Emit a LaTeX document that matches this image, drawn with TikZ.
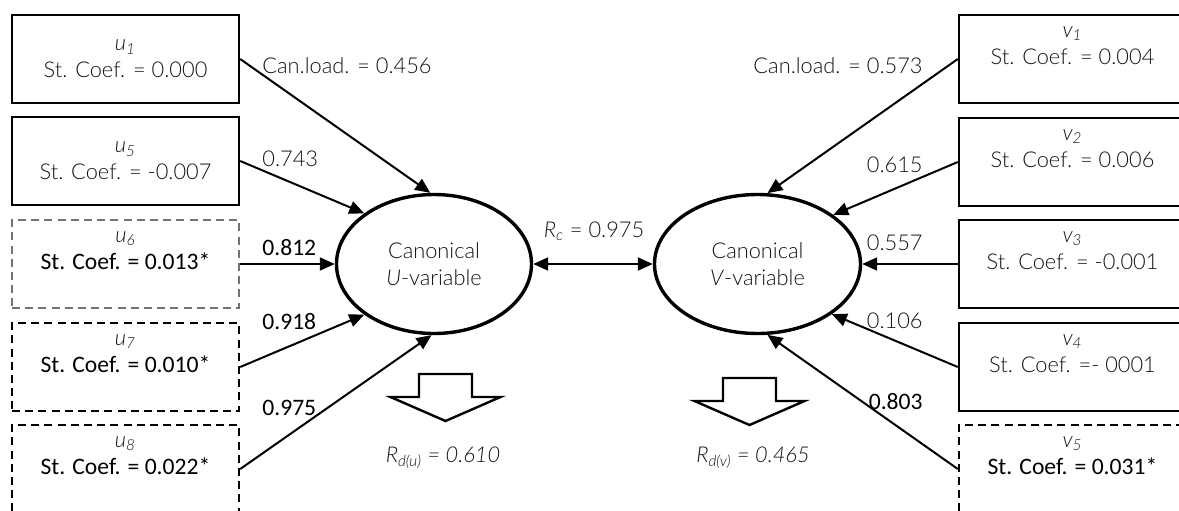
\documentclass[tikz,border=0pt]{standalone}
\usepackage{fontspec}
\setmainfont{Lato}[UprightFont=* Light,ItalicFont=* Light Italic]
\newfontfamily\regfont{Carlito}
\usetikzlibrary{shapes.geometric,arrows.meta}

\tikzset{
    every node/.style={font=\fontsize{10.9}{13.5}\selectfont},
    varbox/.style={draw,line width=1.2pt,minimum width=113.5pt,minimum height=44pt,inner sep=0pt,align=center,text=black!92},
    sigbox/.style={varbox,dash pattern=on 4pt off 2.6pt},
    latent/.style={ellipse,draw,line width=1.7pt,minimum height=69.5pt,inner sep=0pt,align=center,text=black!92},
    load/.style={-{Triangle[length=7.5pt,width=6.5pt]},line width=1pt},
    both/.style={{Triangle[length=7.5pt,width=6.5pt]}-{Triangle[length=7.5pt,width=6.5pt]},line width=1pt},
    lbl/.style={inner sep=0pt,text=black!92},
    siglbl/.style={inner sep=0pt,font=\fontsize{11.8}{14}\regfont}
}
\newcommand{\sigcoef}[1]{{\fontsize{11.8}{14}\regfont\color{black}St. Coef. = #1}}

\begin{document}
\begin{tikzpicture}[x=0.5pt,y=-0.5pt]
        \clip (0,0) rectangle (1179,510);

        % canonical variables
        \node[latent,minimum width=97.5pt] (U) at (434,264) {Canonical\\\textit{U}-variable};
        \node[latent,minimum width=103pt] (V) at (757.5,264) {Canonical\\\textit{V}-variable};

        % u set
        \node[varbox] (u1) at (125.5,59) {\textit{u\textsubscript{1}}\\St. Coef. = 0.000};
        \node[varbox] (u5) at (125.5,161) {\textit{u\textsubscript{5}}\\St. Coef. = -0.007};
        \node[sigbox,draw=black!55] (u6) at (125.5,264) {\textit{u\textsubscript{6}}\\\sigcoef{0.013*}\\~};
        \node[sigbox] (u7) at (125.5,367) {\textit{u\textsubscript{7}}\\\sigcoef{0.010*}\\~};
        \node[sigbox] (u8) at (125.5,469) {\textit{u\textsubscript{8}}\\\sigcoef{0.022*}\\~};

        % v set
        \node[varbox] (v1) at (1072.5,59) {\textit{v\textsubscript{1}}\\St. Coef. = 0.004\\~};
        \node[varbox] (v2) at (1072.5,162) {\textit{v\textsubscript{2}}\\St. Coef. = 0.006\\~};
        \node[varbox] (v3) at (1072.5,264) {\textit{v\textsubscript{3}}\\St. Coef. = -0.001\\~};
        \node[varbox] (v4) at (1072.5,367) {\textit{v\textsubscript{4}}\\St. Coef. =- 0001\\~};
        \node[sigbox] (v5) at (1072.5,469) {\textit{v\textsubscript{5}}\\\sigcoef{0.031*}\\~};

        % loadings
        \draw[load] (u1.east) -- (U.93);
        \draw[load] (u5.east) -- (U.144);
        \draw[load] (u6) -- (U);
        \draw[load] (u7.east) -- (U.216);
        \draw[load] (u8.east) -- (U.268);

        \draw[load] (v1.west) -- (V.82);
        \draw[load] (v2.west) -- (V.33);
        \draw[load] (v3) -- (V);
        \draw[load] (v4.west) -- (V.326);
        \draw[load] (v5.west) -- (V.278);

        \draw[both] (U) -- (V);

        \node[lbl,anchor=west] (lu1) at (262,66) {Can.load. = 0.456};
        \node[lbl,anchor=west] (lu5) at (262,159) {0.743};
        \node[siglbl,anchor=west] (lu6) at (262,248) {0.812};
        \node[siglbl,anchor=west] (lu7) at (262,322) {0.918};
        \node[siglbl,anchor=west] (lu8) at (262,408) {0.975};

        \node[lbl,anchor=east] (lv1) at (923,66) {Can.load. = 0.573};
        \node[lbl,anchor=east] (lv2) at (923,165) {0.615};
        \node[lbl,anchor=east] (lv3) at (923,243) {0.557};
        \node[lbl,anchor=east] (lv4) at (923,321) {0.106};
        \node[siglbl,anchor=east] (lv5) at (923,402) {0.803};

        \node[lbl] (rc) at (594,231) {\textit{R\textsubscript{c}} = 0.975};

        % redundancy
        \foreach \x/\y in {445.5/374,749.5/378}{
            \draw[line width=1.2pt,shift={(\x,\y)}] (-26.5,0) -- (26.5,0) -- (26.5,23) -- (55,23)
                -- (0,47) -- (-55,23) -- (-26.5,23) -- cycle;
        }
        \node[lbl] (rdu) at (443,458) {\textit{R\textsubscript{d(u)} = 0.610}};
        \node[lbl] (rdv) at (753,458) {\textit{R\textsubscript{d(v)} = 0.465}};
    \end{tikzpicture}
\end{document}
